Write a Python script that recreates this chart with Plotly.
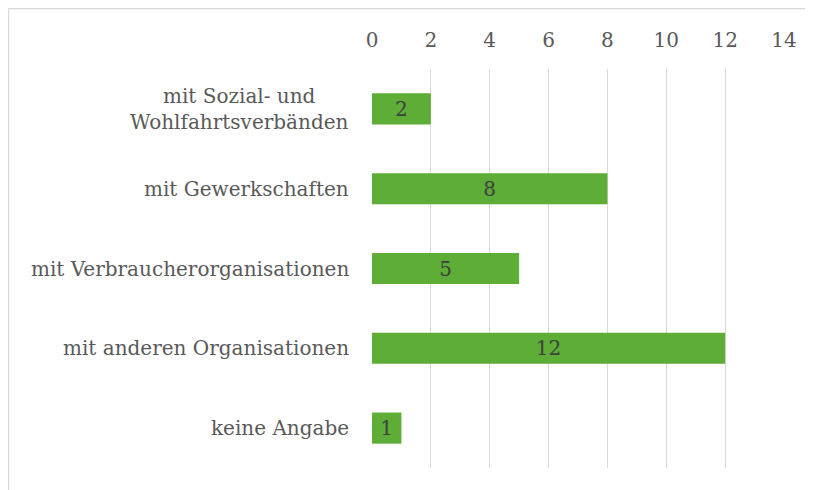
import plotly.graph_objects as go

categories = ["mit Sozial- und<br>Wohlfahrtsverbänden", "mit Gewerkschaften",
              "mit Verbraucherorganisationen", "mit anderen Organisationen", "keine Angabe"]
values = [2, 8, 5, 12, 1]
tick_vals = [0, 2, 4, 6, 8, 10, 12, 14]

FONT = "DejaVu Serif"
GRAY = "#595959"
FS = 20

# page has an 8px body margin; compensate in margins
L, T, R, B = 364, 61, 37, 30
PW, PH = 813 - L - R, 490 - T - B

fig = go.Figure(go.Bar(
    x=values, y=categories, orientation="h",
    marker=dict(color="#5dad36", line=dict(width=0)),
    width=0.39,
    text=[str(v) for v in values], textposition="inside", insidetextanchor="middle",
    textfont=dict(family=FONT, size=FS, color="#404040"),
    textangle=0,
))

# category labels as annotations so multi-line labels are centred like the reference
for c in categories:
    fig.add_annotation(x=0, y=c, xref="x", yref="y", text=c, showarrow=False,
                       xanchor="right", yanchor="middle", align="center", xshift=-21,
                       font=dict(family=FONT, size=FS, color=GRAY))

fig.update_layout(
    width=813, height=490,
    margin=dict(l=L, r=R, t=T, b=B),
    paper_bgcolor="white", plot_bgcolor="white",
    showlegend=False,
    font=dict(family=FONT, size=FS, color=GRAY),
    xaxis=dict(side="top", range=[0, 14], tickvals=tick_vals, showgrid=True,
               gridcolor="#d9d9d9", gridwidth=1, zeroline=False, showline=False,
               ticks="", ticklabelstandoff=17,
               tickfont=dict(family=FONT, size=FS, color=GRAY)),
    yaxis=dict(autorange="reversed", showgrid=False, zeroline=False, showline=False,
               ticks="", showticklabels=False),
    shapes=[
        dict(type="line", xref="paper", yref="paper", x0=(0.5 - L) / PW, x1=1.2,
             y0=1 + (T - 0.5) / PH, y1=1 + (T - 0.5) / PH, line=dict(color="#d9d9d9", width=1.5)),
        dict(type="line", xref="paper", yref="paper", x0=(0.5 - L) / PW, x1=(0.5 - L) / PW,
             y0=-0.2, y1=1 + (T - 0.5) / PH, line=dict(color="#d9d9d9", width=1.5)),
    ],
)

fig.write_html("out.html")
